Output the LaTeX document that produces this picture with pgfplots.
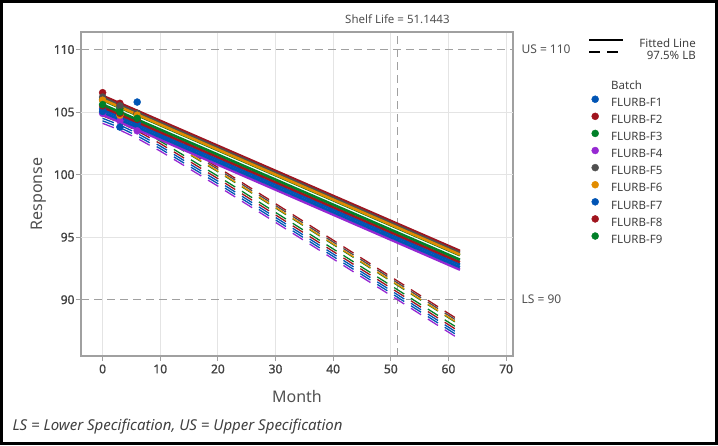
\documentclass[border=0pt]{standalone}
\usepackage{pgfplots}
\pgfplotsset{compat=1.18}
\usepackage{pgfplotstable}
\usepackage{fontspec}
\setmainfont{Noto Sans}
\newfontfamily\tickfont[FakeBold=1.2]{Noto Sans}
\definecolor{cF1}{RGB}{0,84,180}
\definecolor{cF2}{RGB}{160,20,30}
\definecolor{cF3}{RGB}{0,128,40}
\definecolor{cF4}{RGB}{150,40,210}
\definecolor{cF5}{RGB}{80,80,80}
\definecolor{cF6}{RGB}{225,140,0}
\definecolor{cF7}{RGB}{0,84,180}
\definecolor{cF8}{RGB}{160,20,30}
\definecolor{cF9}{RGB}{0,128,40}
\definecolor{framegrey}{RGB}{160,160,160}
\definecolor{gridgrey}{RGB}{228,228,228}
\definecolor{refgrey}{RGB}{160,160,160}
\definecolor{textgrey}{RGB}{64,64,64}
\definecolor{labgrey}{RGB}{80,80,80}

\pgfplotsset{
  batchleg/.style={legend image code/.code={\draw[##1] plot coordinates {(6pt,4.1pt)}; \path[draw=none,fill=none] (0pt,0pt) (22pt,0pt);}},
  fitleg/.style={legend image code/.code={\draw[##1] (0pt,4.1pt) -- (34pt,4.1pt); \path[draw=none,fill=none] (0pt,0pt) (50pt,0pt);}},
  lbleg/.style={legend image code/.code={\draw[##1] (0pt,4.1pt) -- (34pt,4.1pt); \path[draw=none,fill=none] (0pt,0pt) (50pt,0pt);}},
}

\pgfplotstableread{
x F1 F2 F3 F4 F5 F6 F7 F8 F9
0 105.25 106.55 106.00 104.90 106.20 105.95 105.05 105.50 105.60
3 104.50 105.70 105.30 104.30 105.50 104.75 103.80 104.90 105.00
6 105.80 104.90 104.80 103.50 104.90 104.75 104.10 104.40 104.50
}\pttable

\pgfplotstableread{
x F1 F2 F3 F4 F5 F6 F7 F8 F9
0 105.20 106.30 105.95 104.80 106.15 106.00 105.00 105.40 105.60
62 92.80 93.90 93.55 92.40 93.75 93.60 92.60 93.00 93.20
}\fittable

\pgfplotstableread{
x F1 F2 F3 F4 F5 F6 F7 F8 F9
0 104.50 105.60 105.25 104.10 105.45 105.30 104.30 104.70 104.90
3 103.96 105.06 104.71 103.56 104.91 104.76 103.76 104.16 104.36
6 103.30 104.40 104.05 102.90 104.25 104.10 103.10 103.50 103.70
10 102.28 103.38 103.03 101.88 103.23 103.08 102.08 102.48 102.68
20 99.48 100.58 100.23 99.08 100.43 100.28 99.28 99.68 99.88
30 96.58 97.68 97.33 96.18 97.53 97.38 96.38 96.78 96.98
40 93.66 94.76 94.41 93.26 94.61 94.46 93.46 93.86 94.06
50 90.74 91.84 91.49 90.34 91.69 91.54 90.54 90.94 91.14
62 87.22 88.32 87.97 86.82 88.17 88.02 87.02 87.42 87.62
}\lbtable

\begin{document}
\begin{tikzpicture}
\useasboundingbox (0,0) rectangle (718pt,445pt);
\draw[black, line width=3pt] (1.5pt,1.5pt) rectangle (716.5pt,443.5pt);

\begin{axis}[
  at={(81pt,89pt)}, anchor=south west,
  scale only axis, width=432pt, height=324pt,
  xmin=-3.75, xmax=71.2, ymin=85.5, ymax=111.4,
  xtick={0,10,...,70}, ytick={90,95,...,110},
  xmajorgrids=true, ymajorgrids=false,
  extra y ticks={95,100,105}, extra y tick labels={},
  extra y tick style={ymajorgrids=true, major tick length=0pt},
  major grid style={draw=gridgrey, line width=0.9pt},
  axis line style={draw=framegrey, line width=1.2pt},
  tick style={draw=framegrey, line width=1pt},
  tick align=outside, major tick length=5pt, tick pos=left,
  /pgf/number format/assume math mode=true,
  ticklabel style={font=\tickfont\fontsize{12}{14}\selectfont, text=textgrey},
  yticklabel style={xshift=2pt},
  xlabel={Month}, ylabel={Response},
  xlabel style={at={(axis description cs:0.5,-0.1265)}, anchor=center, font=\fontsize{16}{18}\selectfont, text=labgrey},
  ylabel style={at={(axis description cs:-0.0972,0.5)}, anchor=center, font=\fontsize{16}{18}\selectfont, text=labgrey},
  clip=false,
  legend cell align=left,
  legend style={at={(axis description cs:1.1759,0.849)}, anchor=north west,
    draw=none, fill=none, inner sep=0pt, row sep=4.4pt,
    font=\fontsize{11.5}{13}\selectfont, text=textgrey,
    nodes={inner sep=0pt, text height=8.2pt, text depth=2pt}},
]
% reference lines
\draw[refgrey, line width=1.2pt, dash pattern=on 8pt off 5pt] (axis cs:-3.75,110) -- (axis cs:71.2,110);
\draw[refgrey, line width=1.2pt, dash pattern=on 8pt off 5pt] (axis cs:-3.75,90) -- (axis cs:71.2,90);
\draw[refgrey, line width=1.2pt, dash pattern=on 8pt off 5pt] (axis cs:51.1443,85.5) -- (axis cs:51.1443,111.4);
\node[anchor=west, font=\fontsize{12}{14}\selectfont, text=labgrey] at (axis cs:71.2,110) [xshift=5pt] {US = 110};
\node[anchor=west, font=\fontsize{12}{14}\selectfont, text=labgrey] at (axis cs:71.2,90) [xshift=5pt] {LS = 90};
\node[anchor=base, font=\fontsize{11.5}{13}\selectfont, text=labgrey, inner sep=0pt] at (axis cs:51.1443,111.4) [yshift=8pt] {Shelf Life = 51.1443};

\addlegendimage{empty legend}
\addlegendentry{Batch}

\pgfplotsinvokeforeach{F1,F2,F3,F4,F5,F6,F7,F8,F9}{
  \addplot[only marks, mark=*, mark size=3.5pt, color=c#1, batchleg] table[x=x, y=#1] {\pttable};
  \addlegendentry{FLURB-#1}
}
\pgfplotsinvokeforeach{F1,F2,F3,F4,F5,F6,F7,F8,F9}{
  \addplot[forget plot, no marks, color=c#1, line width=1.3pt, dash pattern=on 12pt off 8pt] table[x=x, y=#1] {\lbtable};
}
\pgfplotsinvokeforeach{F1,F2,F3,F4,F5,F6,F7,F8,F9}{
  \addplot[forget plot, no marks, color=c#1, line width=2.6pt] table[x=x, y=#1] {\fittable};
}
\end{axis}

\begin{axis}[
  at={(81pt,89pt)}, anchor=south west,
  scale only axis, width=432pt, height=324pt,
  hide axis, xmin=0, xmax=1, ymin=0, ymax=1,
  legend cell align=right,
  legend style={at={(axis description cs:1.1736,0.9787)}, anchor=north west,
    draw=none, fill=none, inner sep=0pt, row sep=1.8pt,
    font=\fontsize{11.5}{13}\selectfont, text=textgrey,
    nodes={inner sep=0pt, text height=8.2pt, text depth=2pt}},
]
\addlegendimage{black, line width=2.4pt, fitleg}
\addlegendentry{Fitted Line}
\addlegendimage{black, line width=1.6pt, dash pattern=on 11pt off 7pt, lbleg}
\addlegendentry{97.5\% LB}
\end{axis}

\node[anchor=west, font=\itshape\fontsize{15}{17}\selectfont, text=textgrey] at (9pt,18pt) {LS = Lower Specification, US = Upper Specification};
\end{tikzpicture}
\end{document}
